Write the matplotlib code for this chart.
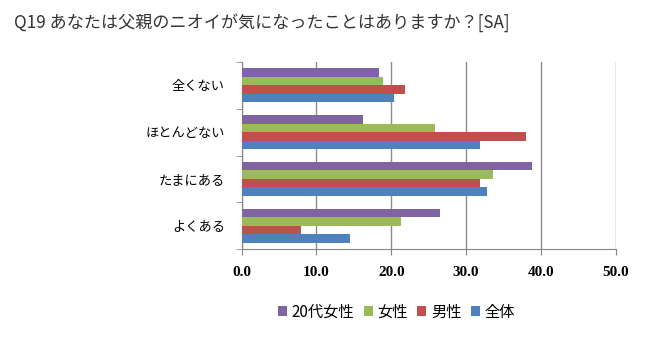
import matplotlib
matplotlib.use('Agg')
import matplotlib.pyplot as plt
import numpy as np

plt.rcParams['font.family'] = ['Noto Sans CJK JP', 'DejaVu Sans']

categories = ['よくある', 'たまにある', 'ほとんどない', '全くない']
series = ['全体', '男性', '女性', '20代女性']
zentai = [14.5, 32.8, 31.9, 20.4]
dansei = [7.9, 31.9, 38.0, 21.9]
josei = [21.3, 33.6, 25.9, 18.9]
josei20 = [26.5, 38.8, 16.2, 18.3]
colors = ['#4F81BD', '#C0504D', '#9BBB59', '#8064A2']
xticks = [0, 10, 20, 30, 40, 50]

fig = plt.figure(figsize=(6.5, 3.41), dpi=100)
ax = fig.add_axes([0.3718, 0.2698, 0.5754, 0.5482])

y = np.arange(len(categories))
h = 1 / 5.5
handles = []
for i, (vals, c, name) in enumerate(zip([zentai, dansei, josei, josei20], colors, series)):
    b = ax.barh(y + (i - 1.5) * h, vals, height=h, color=c, label=name, zorder=3)
    handles.append(b)

ax.set_xlim(0, 50)
ax.set_ylim(-0.5, 3.5)
ax.set_xticks(xticks)
ax.set_xticklabels(['%.1f' % t for t in xticks], family='Liberation Serif',
                   fontweight='bold', fontsize=11)
ax.set_yticks(y)
ax.set_yticklabels(categories, fontsize=9.5)
ax.set_yticks(np.arange(-0.5, 4, 1), minor=True)
ax.tick_params(axis='y', which='major', length=0, pad=12)
ax.tick_params(axis='y', which='minor', length=4, direction='out', color='#868686')
ax.tick_params(axis='x', length=4, direction='out', color='#868686', pad=8)
ax.grid(axis='x', color='#8c8c8c', linewidth=1, zorder=0)
for s in ['top', 'right']:
    ax.spines[s].set_visible(False)
for s in ['left', 'bottom']:
    ax.spines[s].set_color('#868686')

fig.text(0.022, 0.935, 'Q19 あなたは父親のニオイが気になったことはありますか？[SA]',
         fontsize=12.3, va='center', ha='left', color='#333333')

fig.legend(handles[::-1], series[::-1], loc='center', bbox_to_anchor=(0.61, 0.085),
           ncol=4, frameon=False, fontsize=11, handlelength=0.6, handleheight=0.6,
           handletextpad=0.3, columnspacing=0.6)

fig.savefig('out.png', dpi=100)
